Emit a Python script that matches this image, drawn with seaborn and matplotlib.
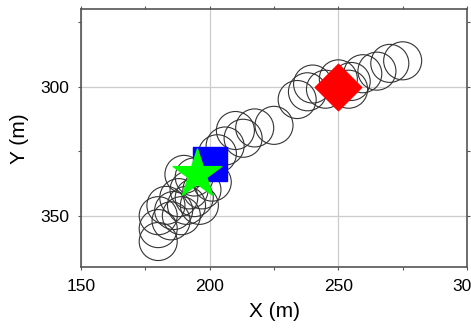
import numpy as np
import pandas as pd
import seaborn as sns
from matplotlib import pyplot as plt
from matplotlib.ticker import MultipleLocator

# circle centres (m)
circ_x = [180, 180, 180, 183, 185, 186, 188, 189, 191, 192, 194, 196, 190, 194,
          197, 201, 203, 206, 210, 213, 217.5, 225, 234, 238, 240, 245, 250,
          254, 255, 259.5, 265, 270, 275]
circ_y = [360, 355, 350, 346, 352, 348, 343, 350, 346, 340, 343, 346, 334, 335,
          340, 337, 326, 323, 317, 320, 316, 315, 305, 302, 299, 301, 297,
          301, 298, 295, 294, 291, 290]

# special points
square_xy = (200, 330)
star_xy = (195, 334)
diamond_xy = (250, 300)

sns.set_style("ticks")
plt.rcParams["font.family"] = ["Liberation Sans", "DejaVu Sans"]
plt.rcParams["text.color"] = "black"
plt.rcParams["axes.labelcolor"] = "black"
plt.rcParams["xtick.labelcolor"] = "black"
plt.rcParams["ytick.labelcolor"] = "black"

fig, ax = plt.subplots(figsize=(4.71, 3.28), dpi=100)
fig.subplots_adjust(left=0.172, right=0.9915, bottom=0.185, top=0.972)

circles = pd.DataFrame({"x": circ_x, "y": circ_y})
sns.scatterplot(circles, x="x", y="y", marker="o", s=750, facecolor="none",
                edgecolor="#333333", linewidth=0.8, ax=ax, zorder=3)

ax.scatter(*square_xy, marker="s", s=600, color="#0000ff", zorder=4)
ax.scatter(*star_xy, marker="*", s=1350, color="#00ff00", zorder=5)
ax.scatter(*diamond_xy, marker="D", s=560, color="#ff0000", zorder=5)

ax.set(xlim=(150, 300), ylim=(370, 270))
ax.set_xlabel("X (m)", fontsize=15, labelpad=6)
ax.set_ylabel("Y (m)", fontsize=15, labelpad=8)
ax.xaxis.set_major_locator(MultipleLocator(50))
ax.yaxis.set_major_locator(MultipleLocator(50))
ax.xaxis.set_minor_locator(MultipleLocator(25))
ax.yaxis.set_minor_locator(MultipleLocator(25))
ax.grid(True, which="major", color="#cccccc", linewidth=0.9, zorder=0)
ax.set_axisbelow(True)
ax.tick_params(which="both", direction="out", length=2.5, width=0.8, color="#555555",
               top=True, right=True, labelsize=12.5, pad=6)
ax.tick_params(which="minor", length=2)
for s in ax.spines.values():
    s.set_visible(True)
    s.set_color("#555555")
    s.set_linewidth(1.2)

fig.savefig("out.png", dpi=100)
